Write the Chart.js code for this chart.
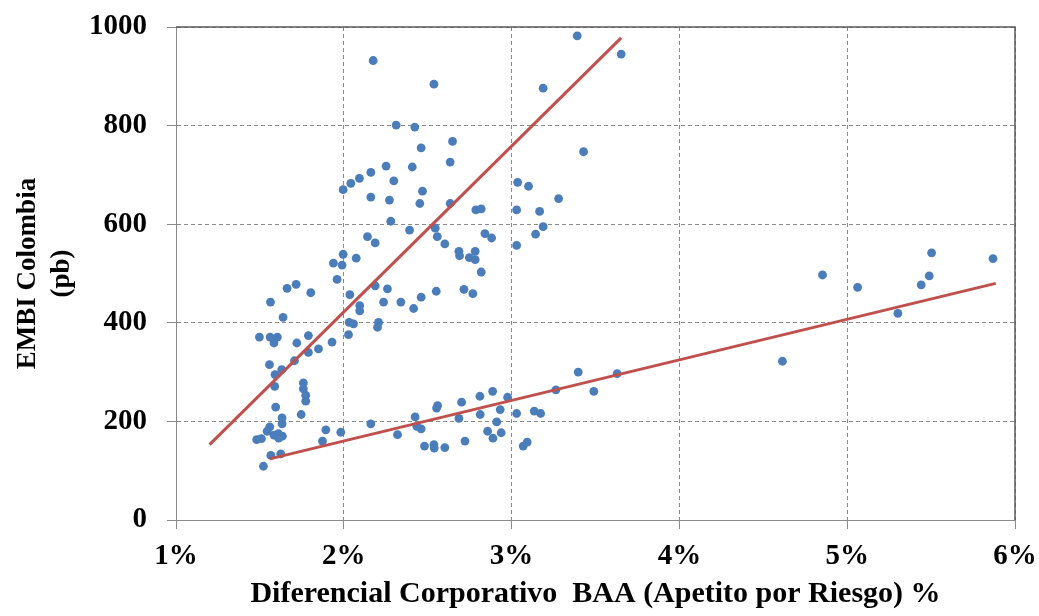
<!DOCTYPE html>
<html lang="es">
<head>
<meta charset="utf-8">
<title>EMBI Colombia vs Diferencial Corporativo BAA</title>
<script src="https://cdn.jsdelivr.net/npm/chart.js@4/dist/chart.umd.min.js"></script>
<style>
  html, body { margin: 0; padding: 0; background: #ffffff; }
  #wrap { width: 1039px; height: 616px; }
</style>
</head>
<body>
<div id="wrap"><canvas id="grafico" width="1039" height="616"></canvas></div>
<script>
// Diferencial corporativo BAA (%) y EMBI Colombia (pb), una observación por punto
const spreadBAA = [
  2.175, 2.537, 2.312, 2.423, 2.461, 2.648, 2.634, 2.252, 2.408, 2.161,
  2.093, 2.042, 1.996, 2.298, 2.161, 2.272, 2.469, 2.453, 2.634, 2.787,
  2.819, 3.036, 3.030, 2.280, 2.392, 2.141, 2.187, 2.545, 2.557, 2.602,
  2.841, 2.881, 2.686, 2.690, 2.748, 2.783, 2.783, 2.819, 3.030, 1.996,
  1.938, 1.990, 2.074, 1.960, 1.662, 1.716, 1.803, 1.563, 2.036, 2.187,
  2.260, 2.237, 2.095, 2.095, 2.340, 2.461, 2.416, 2.551, 2.716, 2.769,
  1.638, 2.032, 2.058, 2.207, 2.201, 2.028, 1.497, 1.561, 1.604, 1.584,
  1.720, 1.789, 1.849, 1.930, 1.789, 1.706, 1.557, 1.630, 1.590, 1.588,
  1.759, 1.759, 1.773, 1.773, 1.594, 1.746, 1.632, 1.632, 1.559, 1.543,
  1.481, 1.509, 1.584, 1.610, 1.634, 1.612, 1.565, 1.624, 1.521, 1.893,
  1.873, 1.982, 2.161, 2.425, 2.435, 2.461, 2.320, 2.481, 2.537, 2.539,
  2.602, 2.553, 2.559, 2.702, 2.686, 2.722, 2.811, 2.813, 2.887, 2.932,
  2.911, 2.857, 2.889, 2.938, 2.976, 3.030, 3.391, 3.653, 3.188, 3.429,
  3.101, 3.280, 3.167, 3.188, 3.143, 3.397, 3.629, 3.264, 3.490, 3.135,
  3.173, 3.069, 3.093, 4.853, 5.062, 5.503, 5.489, 5.441, 5.302, 5.869,
  4.614
];
const embiColombia = [
  932, 884, 801, 797, 755, 768, 726, 718, 716, 705,
  693, 683, 670, 688, 655, 649, 667, 642, 642, 629,
  631, 685, 629, 606, 588, 575, 562, 592, 575, 560,
  581, 572, 545, 536, 532, 545, 528, 503, 557, 539,
  521, 517, 531, 488, 470, 478, 461, 442, 457, 475,
  469, 442, 435, 424, 442, 452, 429, 464, 468, 459,
  411, 401, 398, 401, 391, 376, 371, 371, 371, 359,
  359, 374, 347, 361, 340, 323, 315, 305, 295, 271,
  278, 266, 253, 241, 229, 214, 207, 195, 189, 180,
  163, 165, 172, 175, 170, 166, 131, 134, 109, 183,
  160, 178, 195, 209, 190, 185, 173, 150, 153, 146,
  147, 227, 232, 239, 206, 160, 251, 214, 261, 224,
  199, 180, 166, 177, 249, 216, 982, 945, 876, 747,
  677, 652, 626, 595, 580, 300, 297, 264, 261, 221,
  216, 150, 158, 497, 472, 542, 495, 477, 419, 530,
  322
];

// Rectas de tendencia de los dos regímenes (extremos)
const tendenciaAltaX = [1.20, 3.653];
const tendenciaAltaY = [153, 978];
const tendenciaBajaX = [1.559, 5.885];
const tendenciaBajaY = [124, 480];

// Marcas de los ejes
const ticksX = [1, 2, 3, 4, 5, 6];
const ticksY = [0, 200, 400, 600, 800, 1000];

const toPoints = (xs, ys) => xs.map((x, i) => ({ x: x, y: ys[i] }));

const serif = "'Liberation Serif', 'Times New Roman', serif";
const gridGray = '#8a8a8a';

// Marco superior y derecho del área de trazado
const marco = {
  id: 'marco',
  afterDraw(chart) {
    const { ctx, chartArea: a } = chart;
    ctx.save();
    ctx.strokeStyle = '#5a5a5a';
    ctx.lineWidth = 1.5;
    ctx.beginPath();
    ctx.moveTo(a.left, a.top);
    ctx.lineTo(a.right, a.top);
    ctx.lineTo(a.right, a.bottom);
    ctx.stroke();
    ctx.restore();
  }
};

// Sin márgenes extra por desborde de etiquetas: el área de trazado
// queda fijada por layout.padding y los anchos de los ejes
const sinDesborde = (scale) => {
  scale.paddingTop = 0;
  scale.paddingBottom = 0;
  scale.paddingLeft = 0;
  scale.paddingRight = 0;
};

new Chart(document.getElementById('grafico'), {
  type: 'scatter',
  data: {
    datasets: [
      {
        type: 'line',
        label: 'Tendencia alta',
        data: toPoints(tendenciaAltaX, tendenciaAltaY),
        borderColor: '#c0504d',
        borderWidth: 3,
        pointRadius: 0,
        fill: false,
        order: 0
      },
      {
        type: 'line',
        label: 'Tendencia baja',
        data: toPoints(tendenciaBajaX, tendenciaBajaY),
        borderColor: '#c0504d',
        borderWidth: 3,
        pointRadius: 0,
        fill: false,
        order: 0
      },
      {
        label: 'EMBI Colombia',
        data: toPoints(spreadBAA, embiColombia),
        backgroundColor: '#4a7dba',
        borderColor: '#4a7dba',
        borderWidth: 0,
        pointRadius: 4.4,
        order: 1
      }
    ]
  },
  options: {
    responsive: false,
    animation: false,
    layout: { padding: { top: 27, right: 24, left: 0, bottom: 0 } },
    plugins: {
      legend: { display: false },
      tooltip: { enabled: false }
    },
    scales: {
      x: {
        type: 'linear',
        min: ticksX[0],
        max: ticksX[ticksX.length - 1],
        afterBuildTicks(scale) { scale.ticks = ticksX.map(v => ({ value: v })); },
        afterFit(scale) { scale.height = 96; sinDesborde(scale); },
        ticks: {
          padding: 10,
          color: '#000000',
          font: { family: serif, size: 29, weight: 'bold' },
          callback: v => v + '%'
        },
        grid: {
          color: gridGray,
          lineWidth: 1,
          tickLength: 9,
          tickColor: gridGray,
          tickBorderDash: [1, 0]
        },
        border: { display: true, color: gridGray, width: 1, dash: [4, 3] },
        title: {
          display: true,
          text: 'Diferencial Corporativo  BAA (Apetito por Riesgo) %',
          color: '#000000',
          font: { family: serif, size: 30, weight: 'bold', lineHeight: 1.2 },
          padding: { top: 0, bottom: 4 }
        }
      },
      y: {
        type: 'linear',
        min: ticksY[0],
        max: ticksY[ticksY.length - 1],
        afterBuildTicks(scale) { scale.ticks = ticksY.map(v => ({ value: v })); },
        afterFit(scale) { scale.width = 176; sinDesborde(scale); },
        ticks: {
          padding: 20,
          color: '#000000',
          font: { family: serif, size: 29, weight: 'bold' },
          callback: v => String(v)
        },
        grid: {
          color: gridGray,
          lineWidth: 1,
          tickLength: 9,
          tickColor: gridGray,
          tickBorderDash: [1, 0]
        },
        border: { display: true, color: gridGray, width: 1, dash: [4, 3] },
        title: {
          display: true,
          text: ['EMBI Colombia', '(pb)'],
          color: '#000000',
          font: { family: serif, size: 27, weight: 'bold', lineHeight: 1.25 },
          padding: { top: 11, bottom: 0 }
        }
      }
    }
  },
  plugins: [marco]
});
</script>
</body>
</html>
